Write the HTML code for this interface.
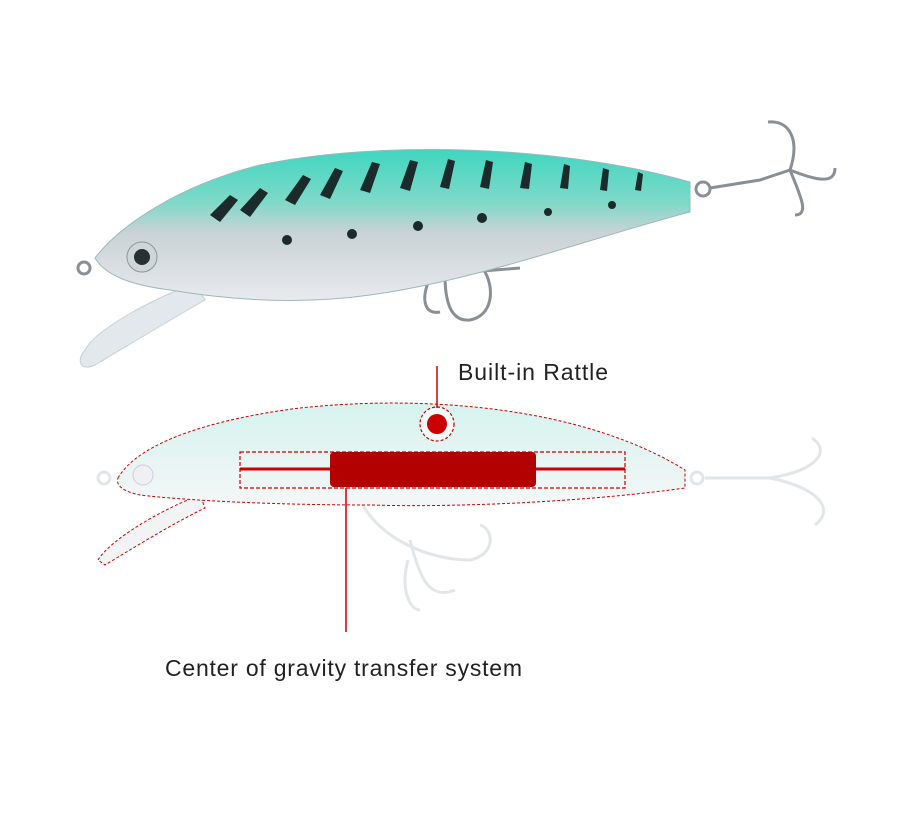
<!DOCTYPE html>
<html><head><meta charset="utf-8"><style>
html,body{margin:0;padding:0;background:#fff;}
svg{display:block;}
text{font-family:"Liberation Sans",sans-serif;}
</style></head><body>
<svg width="920" height="818" viewBox="0 0 920 818" xmlns="http://www.w3.org/2000/svg">
<defs>
<linearGradient id="body" x1="0" y1="0" x2="0" y2="1">
<stop offset="0" stop-color="#3fd6c0"/>
<stop offset="0.35" stop-color="#7fd9c8"/>
<stop offset="0.55" stop-color="#c9d2d6"/>
<stop offset="1" stop-color="#e8eaee"/>
</linearGradient>
<linearGradient id="ghost" x1="0" y1="0" x2="0" y2="1">
<stop offset="0" stop-color="#d6f3ee"/>
<stop offset="1" stop-color="#f4f6f7"/>
</linearGradient>
</defs>

<!-- TOP LURE -->
<path d="M85,350 C95,330 150,300 195,283 L205,300 C170,320 120,350 95,365 C80,372 76,360 85,350 Z" fill="#e3e8ec" stroke="#c7cfd6"/>
<g stroke="#8a8f96" stroke-width="3" fill="none">
<circle cx="84" cy="268" r="6"/>
<path d="M372,262 L374,280 L420,276 L520,268"/>
<path d="M445,275 C445,300 450,322 470,320 C492,316 495,290 485,272"/>
<path d="M460,272 C470,240 480,215 498,212"/>
<path d="M430,278 C420,300 425,315 440,312"/>
<circle cx="703" cy="189" r="7"/>
<path d="M710,188 L760,180 L790,170"/>
<path d="M790,170 C800,140 790,120 768,122"/>
<path d="M790,170 C815,180 835,185 835,168"/>
<path d="M790,170 C800,195 810,215 795,215"/>
</g>
<path d="M95,258 C120,225 180,185 260,165 C380,140 560,145 690,182 L690,212 C600,235 480,280 370,295 C300,305 230,300 170,290 C130,285 105,275 95,258 Z" fill="url(#body)" stroke="#9fb8bc"/>
<g fill="#1b2a2a">
<path d="M210,215 l20,-20 l8,5 l-18,22z"/><path d="M240,210 l20,-22 l8,5 l-18,24z"/>
<path d="M285,200 l18,-25 l8,4 l-16,26z"/><path d="M320,195 l15,-27 l8,3 l-13,28z"/>
<path d="M360,190 l12,-28 l8,2 l-10,29z"/><path d="M400,188 l10,-28 l8,2 l-8,29z"/>
<path d="M440,187 l8,-28 l7,2 l-6,28z"/><path d="M480,187 l6,-27 l7,2 l-4,27z"/>
<path d="M520,188 l5,-26 l7,2 l-3,25z"/><path d="M560,188 l4,-24 l6,2 l-2,23z"/>
<path d="M600,190 l3,-22 l6,2 l-2,21z"/><path d="M635,190 l3,-18 l5,2 l-2,17z"/>
<circle cx="287" cy="240" r="5"/><circle cx="352" cy="234" r="5"/>
<circle cx="418" cy="226" r="5"/><circle cx="482" cy="218" r="5"/>
<circle cx="548" cy="212" r="4"/><circle cx="612" cy="205" r="4"/>
</g>
<circle cx="142" cy="257" r="15" fill="#cfd6da" stroke="#8c979d"/>
<circle cx="142" cy="257" r="8" fill="#2a2f33"/>

<!-- BOTTOM LURE -->
<g stroke="#e3e6e9" stroke-width="3" fill="none">
<circle cx="104" cy="478" r="6"/>
<path d="M360,500 C380,540 430,560 470,560 C495,555 495,530 480,525"/>
<path d="M410,540 C420,580 430,600 455,590"/>
<path d="M408,560 C400,590 410,610 420,610"/>
<circle cx="697" cy="478" r="6"/>
<path d="M705,478 L770,478 C820,470 830,450 812,438"/>
<path d="M770,478 C820,488 835,510 815,525"/>
</g>
<path d="M98,560 C110,540 160,510 200,495 L205,508 C170,525 130,550 105,565 Z" fill="#f1f3f4" stroke="#c00" stroke-width="1" stroke-dasharray="3,2"/>
<path d="M118,478 C140,440 220,418 300,408 C420,395 580,405 685,470 L685,488 C600,500 470,508 370,505 C270,505 180,500 140,495 C125,492 115,486 118,478 Z" fill="url(#ghost)" stroke="#c00" stroke-width="1" stroke-dasharray="3,2"/>
<circle cx="143" cy="475" r="10" fill="#eef0f1" stroke="#ccd"/>
<rect x="240" y="452" width="385" height="36" fill="none" stroke="#c00" stroke-width="1.2" stroke-dasharray="4,2"/>
<line x1="240" y1="469" x2="625" y2="469" stroke="#c00" stroke-width="3"/>
<rect x="330" y="452" width="206" height="35" rx="4" fill="#b30000"/>
<circle cx="437" cy="424" r="17" fill="#fff" fill-opacity="0.6" stroke="#c00" stroke-width="1.2" stroke-dasharray="3,2"/>
<circle cx="437" cy="424" r="10" fill="#c00"/>
<line x1="437" y1="366" x2="437" y2="408" stroke="#c00" stroke-width="1.5"/>
<line x1="346" y1="488" x2="346" y2="632" stroke="#c00" stroke-width="1.5"/>

<text x="458" y="380" font-size="23" fill="#222" textLength="150" lengthAdjust="spacing">Built-in Rattle</text>
<text x="165" y="676" font-size="23" fill="#222" textLength="357" lengthAdjust="spacing">Center of gravity transfer system</text>
</svg>
</body></html>
